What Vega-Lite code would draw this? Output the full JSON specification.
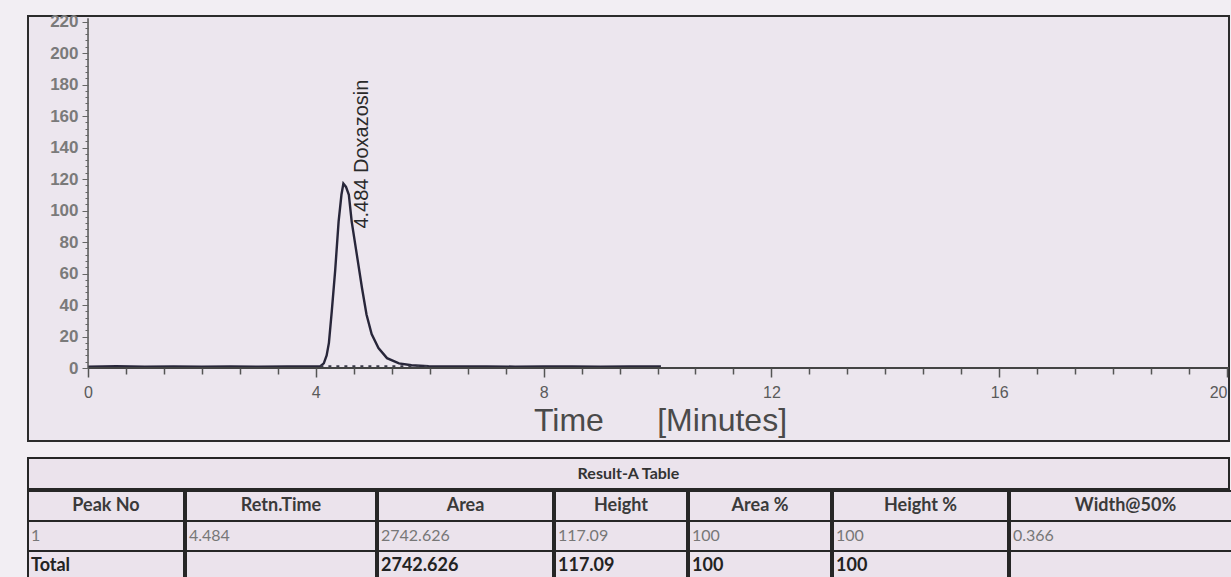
{
  "$schema": "https://vega.github.io/schema/vega-lite/v6.json",
  "background": "#f2eef3",
  "padding": {"left": 27, "top": 11, "right": 0, "bottom": 0},
  "spacing": 15,
  "config": {"view": {"stroke": null}, "font": "Liberation Sans"},
  "datasets": {
    "trace": [
      {"t": 0, "v": 0.8}, {"t": 0.5, "v": 1.2}, {"t": 1, "v": 0.9}, {"t": 1.5, "v": 1.1}, {"t": 2, "v": 0.8},
      {"t": 2.5, "v": 1.0}, {"t": 3, "v": 0.9}, {"t": 3.5, "v": 1.1}, {"t": 4.0, "v": 1.0},
      {"t": 4.08, "v": 1.2}, {"t": 4.14, "v": 3}, {"t": 4.19, "v": 8}, {"t": 4.23, "v": 16}, {"t": 4.28, "v": 36},
      {"t": 4.34, "v": 62}, {"t": 4.40, "v": 93}, {"t": 4.45, "v": 110}, {"t": 4.484, "v": 117.09},
      {"t": 4.53, "v": 115}, {"t": 4.58, "v": 110}, {"t": 4.63, "v": 93}, {"t": 4.72, "v": 72}, {"t": 4.81, "v": 51},
      {"t": 4.89, "v": 34}, {"t": 4.98, "v": 21.6}, {"t": 5.10, "v": 12.7}, {"t": 5.25, "v": 6.3}, {"t": 5.46, "v": 3},
      {"t": 5.68, "v": 1.8}, {"t": 5.98, "v": 1.2},
      {"t": 6.5, "v": 1.0}, {"t": 7, "v": 1.1}, {"t": 7.5, "v": 0.9}, {"t": 8, "v": 1.0}, {"t": 8.5, "v": 1.1},
      {"t": 9, "v": 0.9}, {"t": 9.5, "v": 1.0}, {"t": 10.06, "v": 1.0}
    ],
    "baseline": [{"t": 4.08, "v": 1.2}, {"t": 5.98, "v": 1.2}],
    "peaks": [{"t": 4.484, "v": 117.09, "label": "4.484 Doxazosin"}],
    "title": [{"title": "Result-A Table"}],
    "table": [
      {"col": "Peak No", "row": "head", "text": "Peak No"},
      {"col": "Peak No", "row": "data", "text": "1"},
      {"col": "Peak No", "row": "total", "text": "Total"},
      {"col": "Retn.Time", "row": "head", "text": "Retn.Time"},
      {"col": "Retn.Time", "row": "data", "text": "4.484"},
      {"col": "Retn.Time", "row": "total", "text": ""},
      {"col": "Area", "row": "head", "text": "Area"},
      {"col": "Area", "row": "data", "text": "2742.626"},
      {"col": "Area", "row": "total", "text": "2742.626"},
      {"col": "Height", "row": "head", "text": "Height"},
      {"col": "Height", "row": "data", "text": "117.09"},
      {"col": "Height", "row": "total", "text": "117.09"},
      {"col": "Area %", "row": "head", "text": "Area %"},
      {"col": "Area %", "row": "data", "text": "100"},
      {"col": "Area %", "row": "total", "text": "100"},
      {"col": "Height %", "row": "head", "text": "Height %"},
      {"col": "Height %", "row": "data", "text": "100"},
      {"col": "Height %", "row": "total", "text": "100"},
      {"col": "Width@50%", "row": "head", "text": "Width@50%"},
      {"col": "Width@50%", "row": "data", "text": "0.366"},
      {"col": "Width@50%", "row": "total", "text": ""}
    ]
  },
  "vconcat": [
    {
      "width": 1201,
      "height": 425,
      "view": {"stroke": "#2b2b2b", "strokeWidth": 2, "fill": "#ece6ee"},
      "layer": [
        {
          "data": {"name": "trace"},
          "mark": {"type": "line", "color": "#28263a", "strokeWidth": 2.4},
          "encoding": {
            "x": {
              "field": "t", "type": "quantitative",
              "scale": {"domain": [-1.054, 20.035], "nice": false, "zero": false},
              "axis": {
                "values": [0, 0.6667, 1.3333, 2, 2.6667, 3.3333, 4, 4.6667, 5.3333, 6, 6.6667, 7.3333, 8, 8.6667, 9.3333, 10, 10.6667, 11.3333, 12, 12.6667, 13.3333, 14, 14.6667, 15.3333, 16, 16.6667, 17.3333, 18, 18.6667, 19.3333, 20],
                "tickCount": 200,
                "labelExpr": "abs(datum.value/4 - round(datum.value/4)) < 0.01 ? format(datum.value, 'd') : ''",
                "labelFlush": false,
                "labelOverlap": false,
                "labelAlign": {"condition": {"test": "datum.value > 19.5", "value": "right"}, "value": "center"},
                "offset": -73,
                "domain": false,
                "grid": false,
                "zindex": 1,
                "tickColor": "#555",
                "tickWidth": 1.5,
                "tickSize": {"condition": {"test": "abs(datum.value/4 - round(datum.value/4)) < 0.01", "value": 9}, "value": 6},
                "labelFontSize": 16,
                "labelColor": "#5a5a5a",
                "labelPadding": 7,
                "title": "Time\u00a0\u00a0\u00a0\u00a0\u00a0\u00a0[Minutes]",
                "titleFontSize": 32,
                "titleFontWeight": "normal",
                "titleColor": "#4a4a4a",
                "titleX": 632,
                "titleY": 52,
                "titleAlign": "center",
                "titleBaseline": "middle"
              }
            },
            "y": {
              "field": "v", "type": "quantitative",
              "scale": {"domain": [-46.3, 223.5], "nice": false, "zero": false},
              "axis": {
                "values": [0, 4, 8, 12, 16, 20, 24, 28, 32, 36, 40, 44, 48, 52, 56, 60, 64, 68, 72, 76, 80, 84, 88, 92, 96, 100, 104, 108, 112, 116, 120, 124, 128, 132, 136, 140, 144, 148, 152, 156, 160, 164, 168, 172, 176, 180, 184, 188, 192, 196, 200, 204, 208, 212, 216, 220],
                "tickCount": 200,
                "labelExpr": "datum.value % 20 === 0 ? datum.label : ''",
                "labelOverlap": false,
                "offset": -60,
                "domain": false,
                "grid": false,
                "zindex": 1,
                "tickColor": "#666",
                "tickSize": {"condition": {"test": "datum.value % 20 === 0", "value": 6}, "value": 3},
                "labelFontSize": 17,
                "labelFontWeight": "bold",
                "labelColor": "#7a7a7a",
                "labelPadding": 4,
                "title": null
              }
            }
          }
        },
        {
          "data": {"name": "baseline"},
          "mark": {"type": "line", "color": "#3a3a4a", "strokeDash": [3, 5], "strokeWidth": 2},
          "encoding": {
            "x": {"field": "t", "type": "quantitative"},
            "y": {"field": "v", "type": "quantitative"}
          }
        },
        {
          "data": {"name": "peaks"},
          "mark": {"type": "text", "angle": 270, "align": "left", "baseline": "middle", "dx": -45, "dy": 19, "fontSize": 20, "color": "#2a2a2a"},
          "encoding": {
            "x": {"field": "t", "type": "quantitative"},
            "y": {"field": "v", "type": "quantitative"},
            "text": {"field": "label"}
          }
        },
        {
          "data": {"values": [{}]},
          "mark": {"type": "rule", "color": "#444", "strokeWidth": 2},
          "encoding": {"x": {"datum": 0}, "x2": {"datum": 20.035}, "y": {"datum": 0}}
        },
        {
          "data": {"values": [{}]},
          "mark": {"type": "rule", "color": "#555", "strokeWidth": 1.5},
          "encoding": {"x": {"datum": 0}, "y": {"datum": 0}, "y2": {"datum": 222}}
        }
      ]
    },
    {
      "spacing": 0,
      "vconcat": [
        {
          "width": 1201,
          "height": 31,
          "data": {"name": "title"},
          "view": {"stroke": "#262626", "strokeWidth": 2, "fill": "#ebe3ec"},
          "mark": {"type": "text", "font": "Lato", "fontWeight": "bold", "fontSize": 16, "color": "#333"},
          "encoding": {"text": {"field": "title"}}
        },
        {
          "spacing": 0,
          "hconcat": [
            {"width": 156, "height": 90, "data": {"name": "table"}, "transform": [{"filter": "datum.col === 'Peak No'"}],
             "encoding": {"y": {"field": "row", "type": "nominal", "axis": null, "scale": {"domain": ["head", "data", "total"], "paddingInner": 0, "paddingOuter": 0}}},
             "layer": [
               {"mark": {"type": "rect", "fill": "#ebe3ec", "stroke": "#262626", "strokeWidth": 2}, "encoding": {"x": {"datum": 0, "type": "quantitative", "scale": {"domain": [0, 1], "nice": false}, "axis": null}, "x2": {"datum": 1}}},
               {"transform": [{"filter": "datum.row === 'head'"}], "mark": {"type": "text", "font": "Lato", "fontWeight": "bold", "fontSize": 18, "color": "#3a3a3a"}, "encoding": {"x": {"datum": 0.5, "type": "quantitative"}, "text": {"field": "text"}}},
               {"transform": [{"filter": "datum.row === 'data'"}], "mark": {"type": "text", "font": "Lato", "fontSize": 16, "color": "#777", "align": "left", "dx": 3}, "encoding": {"x": {"datum": 0, "type": "quantitative"}, "text": {"field": "text"}}},
               {"transform": [{"filter": "datum.row === 'total'"}], "mark": {"type": "text", "font": "Lato", "fontWeight": "bold", "fontSize": 18, "color": "#222", "align": "left", "dx": 3}, "encoding": {"x": {"datum": 0, "type": "quantitative"}, "text": {"field": "text"}}}
             ]},
            {"width": 190, "height": 90, "data": {"name": "table"}, "transform": [{"filter": "datum.col === 'Retn.Time'"}],
             "encoding": {"y": {"field": "row", "type": "nominal", "axis": null, "scale": {"domain": ["head", "data", "total"], "paddingInner": 0, "paddingOuter": 0}}},
             "layer": [
               {"mark": {"type": "rect", "fill": "#ebe3ec", "stroke": "#262626", "strokeWidth": 2}, "encoding": {"x": {"datum": 0, "type": "quantitative", "scale": {"domain": [0, 1], "nice": false}, "axis": null}, "x2": {"datum": 1}}},
               {"transform": [{"filter": "datum.row === 'head'"}], "mark": {"type": "text", "font": "Lato", "fontWeight": "bold", "fontSize": 18, "color": "#3a3a3a"}, "encoding": {"x": {"datum": 0.5, "type": "quantitative"}, "text": {"field": "text"}}},
               {"transform": [{"filter": "datum.row === 'data'"}], "mark": {"type": "text", "font": "Lato", "fontSize": 16, "color": "#777", "align": "left", "dx": 3}, "encoding": {"x": {"datum": 0, "type": "quantitative"}, "text": {"field": "text"}}},
               {"transform": [{"filter": "datum.row === 'total'"}], "mark": {"type": "text", "font": "Lato", "fontWeight": "bold", "fontSize": 18, "color": "#222", "align": "left", "dx": 3}, "encoding": {"x": {"datum": 0, "type": "quantitative"}, "text": {"field": "text"}}}
             ]},
            {"width": 175, "height": 90, "data": {"name": "table"}, "transform": [{"filter": "datum.col === 'Area'"}],
             "encoding": {"y": {"field": "row", "type": "nominal", "axis": null, "scale": {"domain": ["head", "data", "total"], "paddingInner": 0, "paddingOuter": 0}}},
             "layer": [
               {"mark": {"type": "rect", "fill": "#ebe3ec", "stroke": "#262626", "strokeWidth": 2}, "encoding": {"x": {"datum": 0, "type": "quantitative", "scale": {"domain": [0, 1], "nice": false}, "axis": null}, "x2": {"datum": 1}}},
               {"transform": [{"filter": "datum.row === 'head'"}], "mark": {"type": "text", "font": "Lato", "fontWeight": "bold", "fontSize": 18, "color": "#3a3a3a"}, "encoding": {"x": {"datum": 0.5, "type": "quantitative"}, "text": {"field": "text"}}},
               {"transform": [{"filter": "datum.row === 'data'"}], "mark": {"type": "text", "font": "Lato", "fontSize": 16, "color": "#777", "align": "left", "dx": 3}, "encoding": {"x": {"datum": 0, "type": "quantitative"}, "text": {"field": "text"}}},
               {"transform": [{"filter": "datum.row === 'total'"}], "mark": {"type": "text", "font": "Lato", "fontWeight": "bold", "fontSize": 18, "color": "#222", "align": "left", "dx": 3}, "encoding": {"x": {"datum": 0, "type": "quantitative"}, "text": {"field": "text"}}}
             ]},
            {"width": 132, "height": 90, "data": {"name": "table"}, "transform": [{"filter": "datum.col === 'Height'"}],
             "encoding": {"y": {"field": "row", "type": "nominal", "axis": null, "scale": {"domain": ["head", "data", "total"], "paddingInner": 0, "paddingOuter": 0}}},
             "layer": [
               {"mark": {"type": "rect", "fill": "#ebe3ec", "stroke": "#262626", "strokeWidth": 2}, "encoding": {"x": {"datum": 0, "type": "quantitative", "scale": {"domain": [0, 1], "nice": false}, "axis": null}, "x2": {"datum": 1}}},
               {"transform": [{"filter": "datum.row === 'head'"}], "mark": {"type": "text", "font": "Lato", "fontWeight": "bold", "fontSize": 18, "color": "#3a3a3a"}, "encoding": {"x": {"datum": 0.5, "type": "quantitative"}, "text": {"field": "text"}}},
               {"transform": [{"filter": "datum.row === 'data'"}], "mark": {"type": "text", "font": "Lato", "fontSize": 16, "color": "#777", "align": "left", "dx": 3}, "encoding": {"x": {"datum": 0, "type": "quantitative"}, "text": {"field": "text"}}},
               {"transform": [{"filter": "datum.row === 'total'"}], "mark": {"type": "text", "font": "Lato", "fontWeight": "bold", "fontSize": 18, "color": "#222", "align": "left", "dx": 3}, "encoding": {"x": {"datum": 0, "type": "quantitative"}, "text": {"field": "text"}}}
             ]},
            {"width": 142, "height": 90, "data": {"name": "table"}, "transform": [{"filter": "datum.col === 'Area %'"}],
             "encoding": {"y": {"field": "row", "type": "nominal", "axis": null, "scale": {"domain": ["head", "data", "total"], "paddingInner": 0, "paddingOuter": 0}}},
             "layer": [
               {"mark": {"type": "rect", "fill": "#ebe3ec", "stroke": "#262626", "strokeWidth": 2}, "encoding": {"x": {"datum": 0, "type": "quantitative", "scale": {"domain": [0, 1], "nice": false}, "axis": null}, "x2": {"datum": 1}}},
               {"transform": [{"filter": "datum.row === 'head'"}], "mark": {"type": "text", "font": "Lato", "fontWeight": "bold", "fontSize": 18, "color": "#3a3a3a"}, "encoding": {"x": {"datum": 0.5, "type": "quantitative"}, "text": {"field": "text"}}},
               {"transform": [{"filter": "datum.row === 'data'"}], "mark": {"type": "text", "font": "Lato", "fontSize": 16, "color": "#777", "align": "left", "dx": 3}, "encoding": {"x": {"datum": 0, "type": "quantitative"}, "text": {"field": "text"}}},
               {"transform": [{"filter": "datum.row === 'total'"}], "mark": {"type": "text", "font": "Lato", "fontWeight": "bold", "fontSize": 18, "color": "#222", "align": "left", "dx": 3}, "encoding": {"x": {"datum": 0, "type": "quantitative"}, "text": {"field": "text"}}}
             ]},
            {"width": 175, "height": 90, "data": {"name": "table"}, "transform": [{"filter": "datum.col === 'Height %'"}],
             "encoding": {"y": {"field": "row", "type": "nominal", "axis": null, "scale": {"domain": ["head", "data", "total"], "paddingInner": 0, "paddingOuter": 0}}},
             "layer": [
               {"mark": {"type": "rect", "fill": "#ebe3ec", "stroke": "#262626", "strokeWidth": 2}, "encoding": {"x": {"datum": 0, "type": "quantitative", "scale": {"domain": [0, 1], "nice": false}, "axis": null}, "x2": {"datum": 1}}},
               {"transform": [{"filter": "datum.row === 'head'"}], "mark": {"type": "text", "font": "Lato", "fontWeight": "bold", "fontSize": 18, "color": "#3a3a3a"}, "encoding": {"x": {"datum": 0.5, "type": "quantitative"}, "text": {"field": "text"}}},
               {"transform": [{"filter": "datum.row === 'data'"}], "mark": {"type": "text", "font": "Lato", "fontSize": 16, "color": "#777", "align": "left", "dx": 3}, "encoding": {"x": {"datum": 0, "type": "quantitative"}, "text": {"field": "text"}}},
               {"transform": [{"filter": "datum.row === 'total'"}], "mark": {"type": "text", "font": "Lato", "fontWeight": "bold", "fontSize": 18, "color": "#222", "align": "left", "dx": 3}, "encoding": {"x": {"datum": 0, "type": "quantitative"}, "text": {"field": "text"}}}
             ]},
            {"width": 231, "height": 90, "data": {"name": "table"}, "transform": [{"filter": "datum.col === 'Width@50%'"}],
             "encoding": {"y": {"field": "row", "type": "nominal", "axis": null, "scale": {"domain": ["head", "data", "total"], "paddingInner": 0, "paddingOuter": 0}}},
             "layer": [
               {"mark": {"type": "rect", "fill": "#ebe3ec", "stroke": "#262626", "strokeWidth": 2}, "encoding": {"x": {"datum": 0, "type": "quantitative", "scale": {"domain": [0, 1], "nice": false}, "axis": null}, "x2": {"datum": 1}}},
               {"transform": [{"filter": "datum.row === 'head'"}], "mark": {"type": "text", "font": "Lato", "fontWeight": "bold", "fontSize": 18, "color": "#3a3a3a"}, "encoding": {"x": {"datum": 0.5, "type": "quantitative"}, "text": {"field": "text"}}},
               {"transform": [{"filter": "datum.row === 'data'"}], "mark": {"type": "text", "font": "Lato", "fontSize": 16, "color": "#777", "align": "left", "dx": 3}, "encoding": {"x": {"datum": 0, "type": "quantitative"}, "text": {"field": "text"}}},
               {"transform": [{"filter": "datum.row === 'total'"}], "mark": {"type": "text", "font": "Lato", "fontWeight": "bold", "fontSize": 18, "color": "#222", "align": "left", "dx": 3}, "encoding": {"x": {"datum": 0, "type": "quantitative"}, "text": {"field": "text"}}}
             ]}
          ]
        }
      ]
    }
  ]
}
